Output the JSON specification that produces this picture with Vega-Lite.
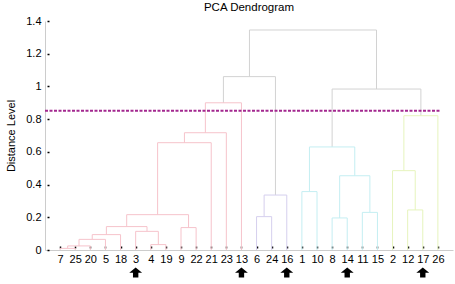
{
  "$schema": "https://vega.github.io/schema/vega-lite/v6.json",
  "width": 408,
  "height": 229,
  "autosize": {"type": "none"},
  "padding": {"left": 45, "top": 21, "right": 2, "bottom": 34},
  "background": "white",
  "config": {
    "font": "Liberation Sans",
    "view": {"stroke": null},
    "axis": {"grid": false, "labelOverlap": false, "labelFlush": false, "labelFont": "Liberation Sans", "titleFont": "Liberation Sans", "labelColor": "#000", "titleColor": "#000",
      "labelFontSize": 11, "domainColor": "#cccccc", "domainWidth": 1, "tickColor": "#000", "tickSize": -4, "tickWidth": 1.5, "tickDash": [2, 2], "tickDashOffset": 2},
    "axisX": {"labelPadding": 7},
    "axisY": {"labelPadding": 8, "titleFontSize": 11, "titleFontWeight": "normal", "titlePadding": 9}
  },
  "title": {"text": "PCA Dendrogram", "fontSize": 11.5, "fontWeight": "normal", "color": "#000", "anchor": "middle", "offset": 2, "font": "Liberation Sans"},
  "datasets": {
    "links": [
      {"xl": 1, "hl": 0, "xr": 2, "hr": 0, "h": 0.01, "g": "pink"},
      {"xl": 1.5, "hl": 0.01, "xr": 3, "hr": 0, "h": 0.025, "g": "pink"},
      {"xl": 2.25, "hl": 0.025, "xr": 4, "hr": 0, "h": 0.065, "g": "pink"},
      {"xl": 3.125, "hl": 0.065, "xr": 5, "hr": 0, "h": 0.094, "g": "pink"},
      {"xl": 7, "hl": 0, "xr": 8, "hr": 0, "h": 0.033, "g": "pink"},
      {"xl": 6, "hl": 0, "xr": 7.5, "hr": 0.033, "h": 0.114, "g": "pink"},
      {"xl": 4.0625, "hl": 0.094, "xr": 6.75, "hr": 0.114, "h": 0.143, "g": "pink"},
      {"xl": 9, "hl": 0, "xr": 10, "hr": 0, "h": 0.137, "g": "pink"},
      {"xl": 5.406, "hl": 0.143, "xr": 9.5, "hr": 0.137, "h": 0.216, "g": "pink"},
      {"xl": 7.453, "hl": 0.216, "xr": 11, "hr": 0, "h": 0.656, "g": "pink"},
      {"xl": 9.227, "hl": 0.656, "xr": 12, "hr": 0, "h": 0.717, "g": "pink"},
      {"xl": 10.613, "hl": 0.717, "xr": 13, "hr": 0, "h": 0.9, "g": "pink"},
      {"xl": 14, "hl": 0, "xr": 15, "hr": 0, "h": 0.204, "g": "lav"},
      {"xl": 14.5, "hl": 0.204, "xr": 16, "hr": 0, "h": 0.336, "g": "lav"},
      {"xl": 11.807, "hl": 0.9, "xr": 15.25, "hr": 0.336, "h": 1.06, "g": "gray"},
      {"xl": 17, "hl": 0, "xr": 18, "hr": 0, "h": 0.357, "g": "cyan"},
      {"xl": 19, "hl": 0, "xr": 20, "hr": 0, "h": 0.196, "g": "cyan"},
      {"xl": 21, "hl": 0, "xr": 22, "hr": 0, "h": 0.23, "g": "cyan"},
      {"xl": 19.5, "hl": 0.196, "xr": 21.5, "hr": 0.23, "h": 0.454, "g": "cyan"},
      {"xl": 17.5, "hl": 0.357, "xr": 20.5, "hr": 0.454, "h": 0.63, "g": "cyan"},
      {"xl": 24, "hl": 0, "xr": 25, "hr": 0, "h": 0.245, "g": "yg"},
      {"xl": 23, "hl": 0, "xr": 24.5, "hr": 0.245, "h": 0.485, "g": "yg"},
      {"xl": 23.75, "hl": 0.485, "xr": 26, "hr": 0, "h": 0.821, "g": "yg"},
      {"xl": 19, "hl": 0.63, "xr": 24.875, "hr": 0.821, "h": 0.984, "g": "gray"},
      {"xl": 13.529, "hl": 1.06, "xr": 21.938, "hr": 0.984, "h": 1.345, "g": "gray"}
    ],
    "arrows": [
      {"pos": 6, "leaf": "3"},
      {"pos": 13, "leaf": "13"},
      {"pos": 16, "leaf": "16"},
      {"pos": 20, "leaf": "14"},
      {"pos": 25, "leaf": "17"}
    ],
    "threshold": [
      {"x0": 0, "x1": 26.2, "level": 0.852}
    ]
  },
  "layer": [
    {
      "data": {"name": "links"},
      "mark": {"type": "rule", "strokeWidth": 1},
      "encoding": {
        "x": {"field": "xl", "type": "quantitative", "scale": {"domain": [0, 27], "nice": false, "zero": false},
          "axis": {
            "title": null,
            "tickCount": 40,
            "values": [1,2,3,4,5,6,7,8,9,10,11,12,13,14,15,16,17,18,19,20,21,22,23,24,25,26],
            "labelExpr": "['7','25','20','5','18','3','4','19','9','22','21','23','13','6','24','16','1','10','8','14','11','15','2','12','17','26'][datum.value-1]"
          }},
        "y": {"field": "hl", "type": "quantitative", "scale": {"domain": [0, 1.4], "nice": false},
          "axis": {
            "title": "Distance Level",
            "tickCount": 20,
            "values": [0, 0.2, 0.4, 0.6, 0.8, 1, 1.2, 1.4],
            "format": "~g"
          }},
        "y2": {"field": "h"},
        "color": {"field": "g", "type": "nominal", "legend": null,
          "scale": {"domain": ["pink", "lav", "cyan", "yg", "gray"], "range": ["#f6c3cb", "#d5cfee", "#c4eef2", "#e6f4bd", "#d2d2d2"]}}
      }
    },
    {
      "data": {"name": "links"},
      "mark": {"type": "rule", "strokeWidth": 1},
      "encoding": {
        "x": {"field": "xr", "type": "quantitative"},
        "y": {"field": "hr", "type": "quantitative"},
        "y2": {"field": "h"},
        "color": {"field": "g", "type": "nominal", "legend": null}
      }
    },
    {
      "data": {"name": "links"},
      "mark": {"type": "rule", "strokeWidth": 1},
      "encoding": {
        "x": {"field": "xl", "type": "quantitative"},
        "x2": {"field": "xr"},
        "y": {"field": "h", "type": "quantitative"},
        "color": {"field": "g", "type": "nominal", "legend": null}
      }
    },
    {
      "data": {"name": "threshold"},
      "mark": {"type": "rule", "strokeWidth": 2, "strokeDash": [3, 1.5], "color": "#a3288f"},
      "encoding": {
        "x": {"field": "x0", "type": "quantitative"},
        "x2": {"field": "x1"},
        "y": {"field": "level", "type": "quantitative"}
      }
    },
    {
      "data": {"name": "arrows"},
      "mark": {"type": "point", "filled": true, "color": "#000", "opacity": 1, "size": 165,
        "shape": "M0,-0.8L1,0L0.42,0L0.42,0.75L-0.42,0.75L-0.42,0L-1,0Z"},
      "encoding": {
        "x": {"field": "pos", "type": "quantitative"},
        "y": {"datum": -0.139}
      }
    }
  ]
}
